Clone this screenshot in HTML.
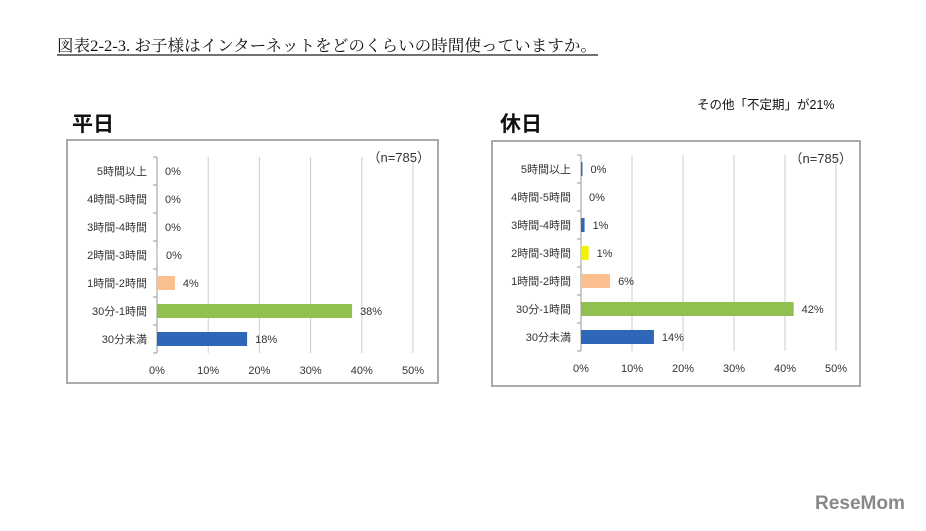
<!DOCTYPE html>
<html><head><meta charset="utf-8">
<style>
body{margin:0;background:#fff;}
svg text{font-family:"Liberation Sans","Noto Sans CJK JP",sans-serif;}
</style></head>
<body>
<svg id="root" width="926" height="526" viewBox="0 0 926 526" xmlns="http://www.w3.org/2000/svg">
<text x="57" y="51" font-size="16" textLength="540" lengthAdjust="spacingAndGlyphs" fill="#111" style="font-family:'Liberation Serif','Noto Serif CJK SC',serif">図表2-2-3. お子様はインターネットをどのくらいの時間使っていますか。</text>
<line x1="57" y1="55" x2="598" y2="55" stroke="#444" stroke-width="1.5"/>
<text x="72" y="131" font-size="21" font-weight="bold" fill="#111">平日</text>
<text x="500" y="131" font-size="21" font-weight="bold" fill="#111">休日</text>
<text x="697" y="109" font-size="12.5" fill="#111">その他「不定期」が21%</text>
<g id="c1"></g>
<g id="c2"></g>
<text x="815" y="509" font-size="19" textLength="90" lengthAdjust="spacingAndGlyphs" font-weight="bold" fill="#888">ReseMom</text>
</svg>
<script>
const categories=["5時間以上","4時間-5時間","3時間-4時間","2時間-3時間","1時間-2時間","30分-1時間","30分未満"];
const weekdayValues=[0,0,0,0.2,3.5,38.1,17.6];
const weekdayLabels=["0%","0%","0%","0%","4%","38%","18%"];
const holidayValues=[0.3,0,0.7,1.5,5.7,41.7,14.3];
const holidayLabels=["0%","0%","1%","1%","6%","42%","14%"];
const ticks=[0,10,20,30,40,50];
const tickLabels=["0%","10%","20%","30%","40%","50%"];
const weekdayColors=["#4f81bd","#4f81bd","#4f81bd","#f2f200","#fac090","#92c050","#2f67b8"];
const holidayColors=["#3a6fc0","#4f81bd","#2f67b8","#f2f200","#fac090","#92c050","#2f67b8"];
const NS="http://www.w3.org/2000/svg";
function mk(p,t,a){const e=document.createElementNS(NS,t);for(const k in a)e.setAttribute(k,a[k]);p.appendChild(e);return e;}
function chart(g,box,x0,x50,yTop,yBot,vals,labels,colors){
  const box_=mk(g,"rect",{x:box[0],y:box[1],width:box[2],height:box[3],fill:"#fff",stroke:"#aaa","stroke-width":2});
  
  
  const xs=v=>x0+(x50-x0)*v/50;
  const band=(yBot-yTop)/categories.length;
  ticks.forEach((t,i)=>{
    const gl=mk(g,"line",{x1:xs(t),x2:xs(t),y1:yTop,y2:yBot,stroke:i==0?"#999":"#ccc","stroke-width":1});
    
    
    const tl=mk(g,"text",{x:xs(t),y:yBot+21,"font-size":11,fill:"#333","text-anchor":"middle"});
    tl.textContent=tickLabels[i];
    
    
  });
  for(let i=0;i<=categories.length;i++){
    const tk=mk(g,"line",{x1:x0-4,x2:x0,y1:yTop+band*i,y2:yTop+band*i,stroke:"#999"});
    
    
  }
  categories.forEach((c,i)=>{
    const cy=yTop+band*(i+0.5);
    const cl=mk(g,"text",{x:x0-10,y:cy+4,"font-size":11,fill:"#333","text-anchor":"end"});
    cl.textContent=c;
    
    
    const w=xs(vals[i])-x0;
    const b=mk(g,"rect",{x:x0,y:cy-7,width:Math.max(w,0),height:14,fill:colors[i]});
    
    
    const vl=mk(g,"text",{x:xs(vals[i])+8,y:cy+4,"font-size":11,fill:"#333"});
    vl.textContent=labels[i];
    
    
  });
  const n=mk(g,"text",{x:box[0]+box[2]-8,y:box[1]+22,"font-size":13,fill:"#333","text-anchor":"end"});
  n.textContent="（n=785）";
  
  
}
chart(document.getElementById("c1"),[67,140,371,243],157,413,157,353,weekdayValues,weekdayLabels,weekdayColors);
chart(document.getElementById("c2"),[492,141,368,245],581,836,155,351,holidayValues,holidayLabels,holidayColors);
</script>
</body></html>
